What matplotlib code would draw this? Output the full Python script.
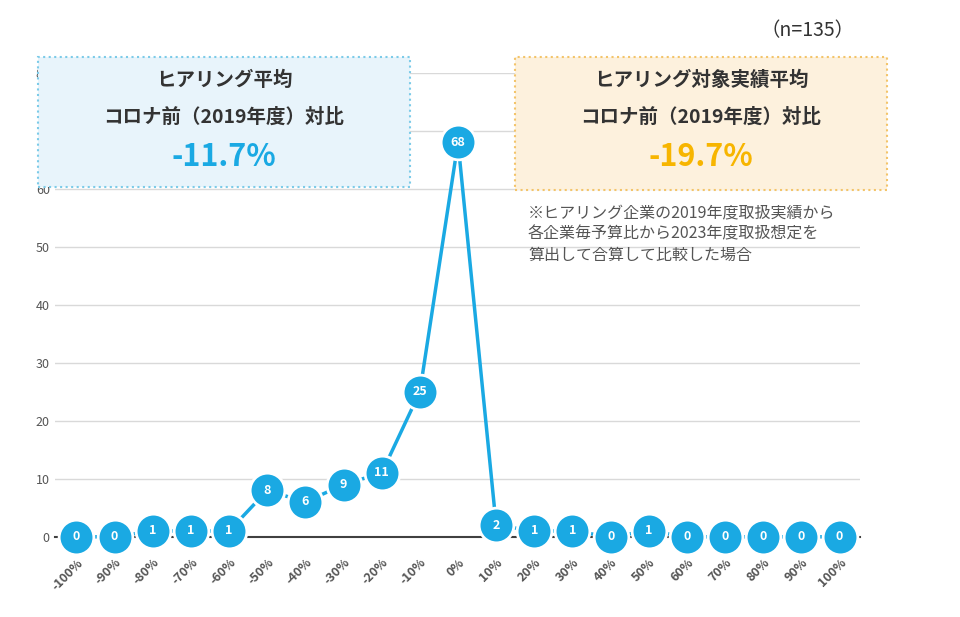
import matplotlib
matplotlib.use("Agg")
import matplotlib.pyplot as plt
from matplotlib.patches import FancyBboxPatch

plt.rcParams["font.family"] = "Noto Sans CJK JP"

# data
x_pct = list(range(-100, 101, 10))
counts = [0, 0, 1, 1, 1, 8, 6, 9, 11, 25, 68, 2, 1, 1, 0, 1, 0, 0, 0, 0, 0]
x_labels = [f"{v}%" for v in x_pct]
y_ticks = [0, 10, 20, 30, 40, 50, 60, 70, 80]

BLUE = "#1aa9e3"
ORANGE = "#f7b500"

fig = plt.figure(figsize=(9.6, 6.17), dpi=100)
ax = fig.add_axes([0.057, 0.13, 0.839, 0.752])

ax.plot(x_pct, counts, color=BLUE, lw=2.5, marker="o", markersize=25,
        markerfacecolor=BLUE, markeredgecolor="white", markeredgewidth=2,
        clip_on=False, zorder=3)
for xv, yv in zip(x_pct, counts):
    ax.text(xv, yv, str(yv), color="white", fontsize=9, fontweight="bold",
            ha="center", va="center", zorder=4)

ax.set_xlim(-105.7, 105.4)
ax.set_ylim(0, 80)
ax.set_yticks(y_ticks)
ax.set_xticks(x_pct)
ax.set_xticklabels(x_labels, rotation=45, ha="right", rotation_mode="anchor",
                   fontsize=9, fontweight="bold", color="#555555")
ax.tick_params(axis="y", labelsize=9, colors="#555555", length=0)
ax.tick_params(axis="x", length=0, pad=14)
ax.grid(axis="y", color="#d9d9d9", lw=1)
ax.set_axisbelow(True)
for s in ["top", "right", "left"]:
    ax.spines[s].set_visible(False)
ax.spines["bottom"].set_color("#404040")
ax.spines["bottom"].set_linewidth(1.5)

fig.text(0.89, 0.95, "（n=135）", fontsize=14, ha="right", va="center", color="#333333")

# annotation boxes (figure pixel coords)
def box(x0, y0, x1, y1, fc, ec):
    p = FancyBboxPatch((x0 / 960, 1 - y1 / 617), (x1 - x0) / 960, (y1 - y0) / 617,
                       boxstyle="square,pad=0", transform=fig.transFigure,
                       facecolor=fc, edgecolor=ec, lw=1.5, linestyle=":", zorder=5)
    fig.patches.append(p)

box(38, 57, 410, 187, "#e8f4fb", "#7ccbe8")
box(515, 57, 887, 190, "#fdf1dd", "#f3c46a")

def ft(xp, yp, s, **kw):
    fig.text(xp / 960, 1 - yp / 617, s, ha="center", va="center", zorder=6, **kw)

ft(224, 80, "ヒアリング平均", fontsize=14, fontweight="bold", color="#333333")
ft(224, 117, "コロナ前（2019年度）対比", fontsize=14, fontweight="bold", color="#333333")
ft(224, 157, "-11.7%", fontsize=22, fontweight="bold", color=BLUE)
ft(701, 80, "ヒアリング対象実績平均", fontsize=14, fontweight="bold", color="#333333")
ft(701, 117, "コロナ前（2019年度）対比", fontsize=14, fontweight="bold", color="#333333")
ft(701, 157, "-19.7%", fontsize=22, fontweight="bold", color=ORANGE)

fig.text(528 / 960, 1 - 205 / 617,
         "※ヒアリング企業の2019年度取扱実績から\n各企業毎予算比から2023年度取扱想定を\n算出して合算して比較した場合",
         fontsize=11.5, color="#555555", ha="left", va="top", linespacing=1.3)

fig.savefig("out.png", dpi=100)
